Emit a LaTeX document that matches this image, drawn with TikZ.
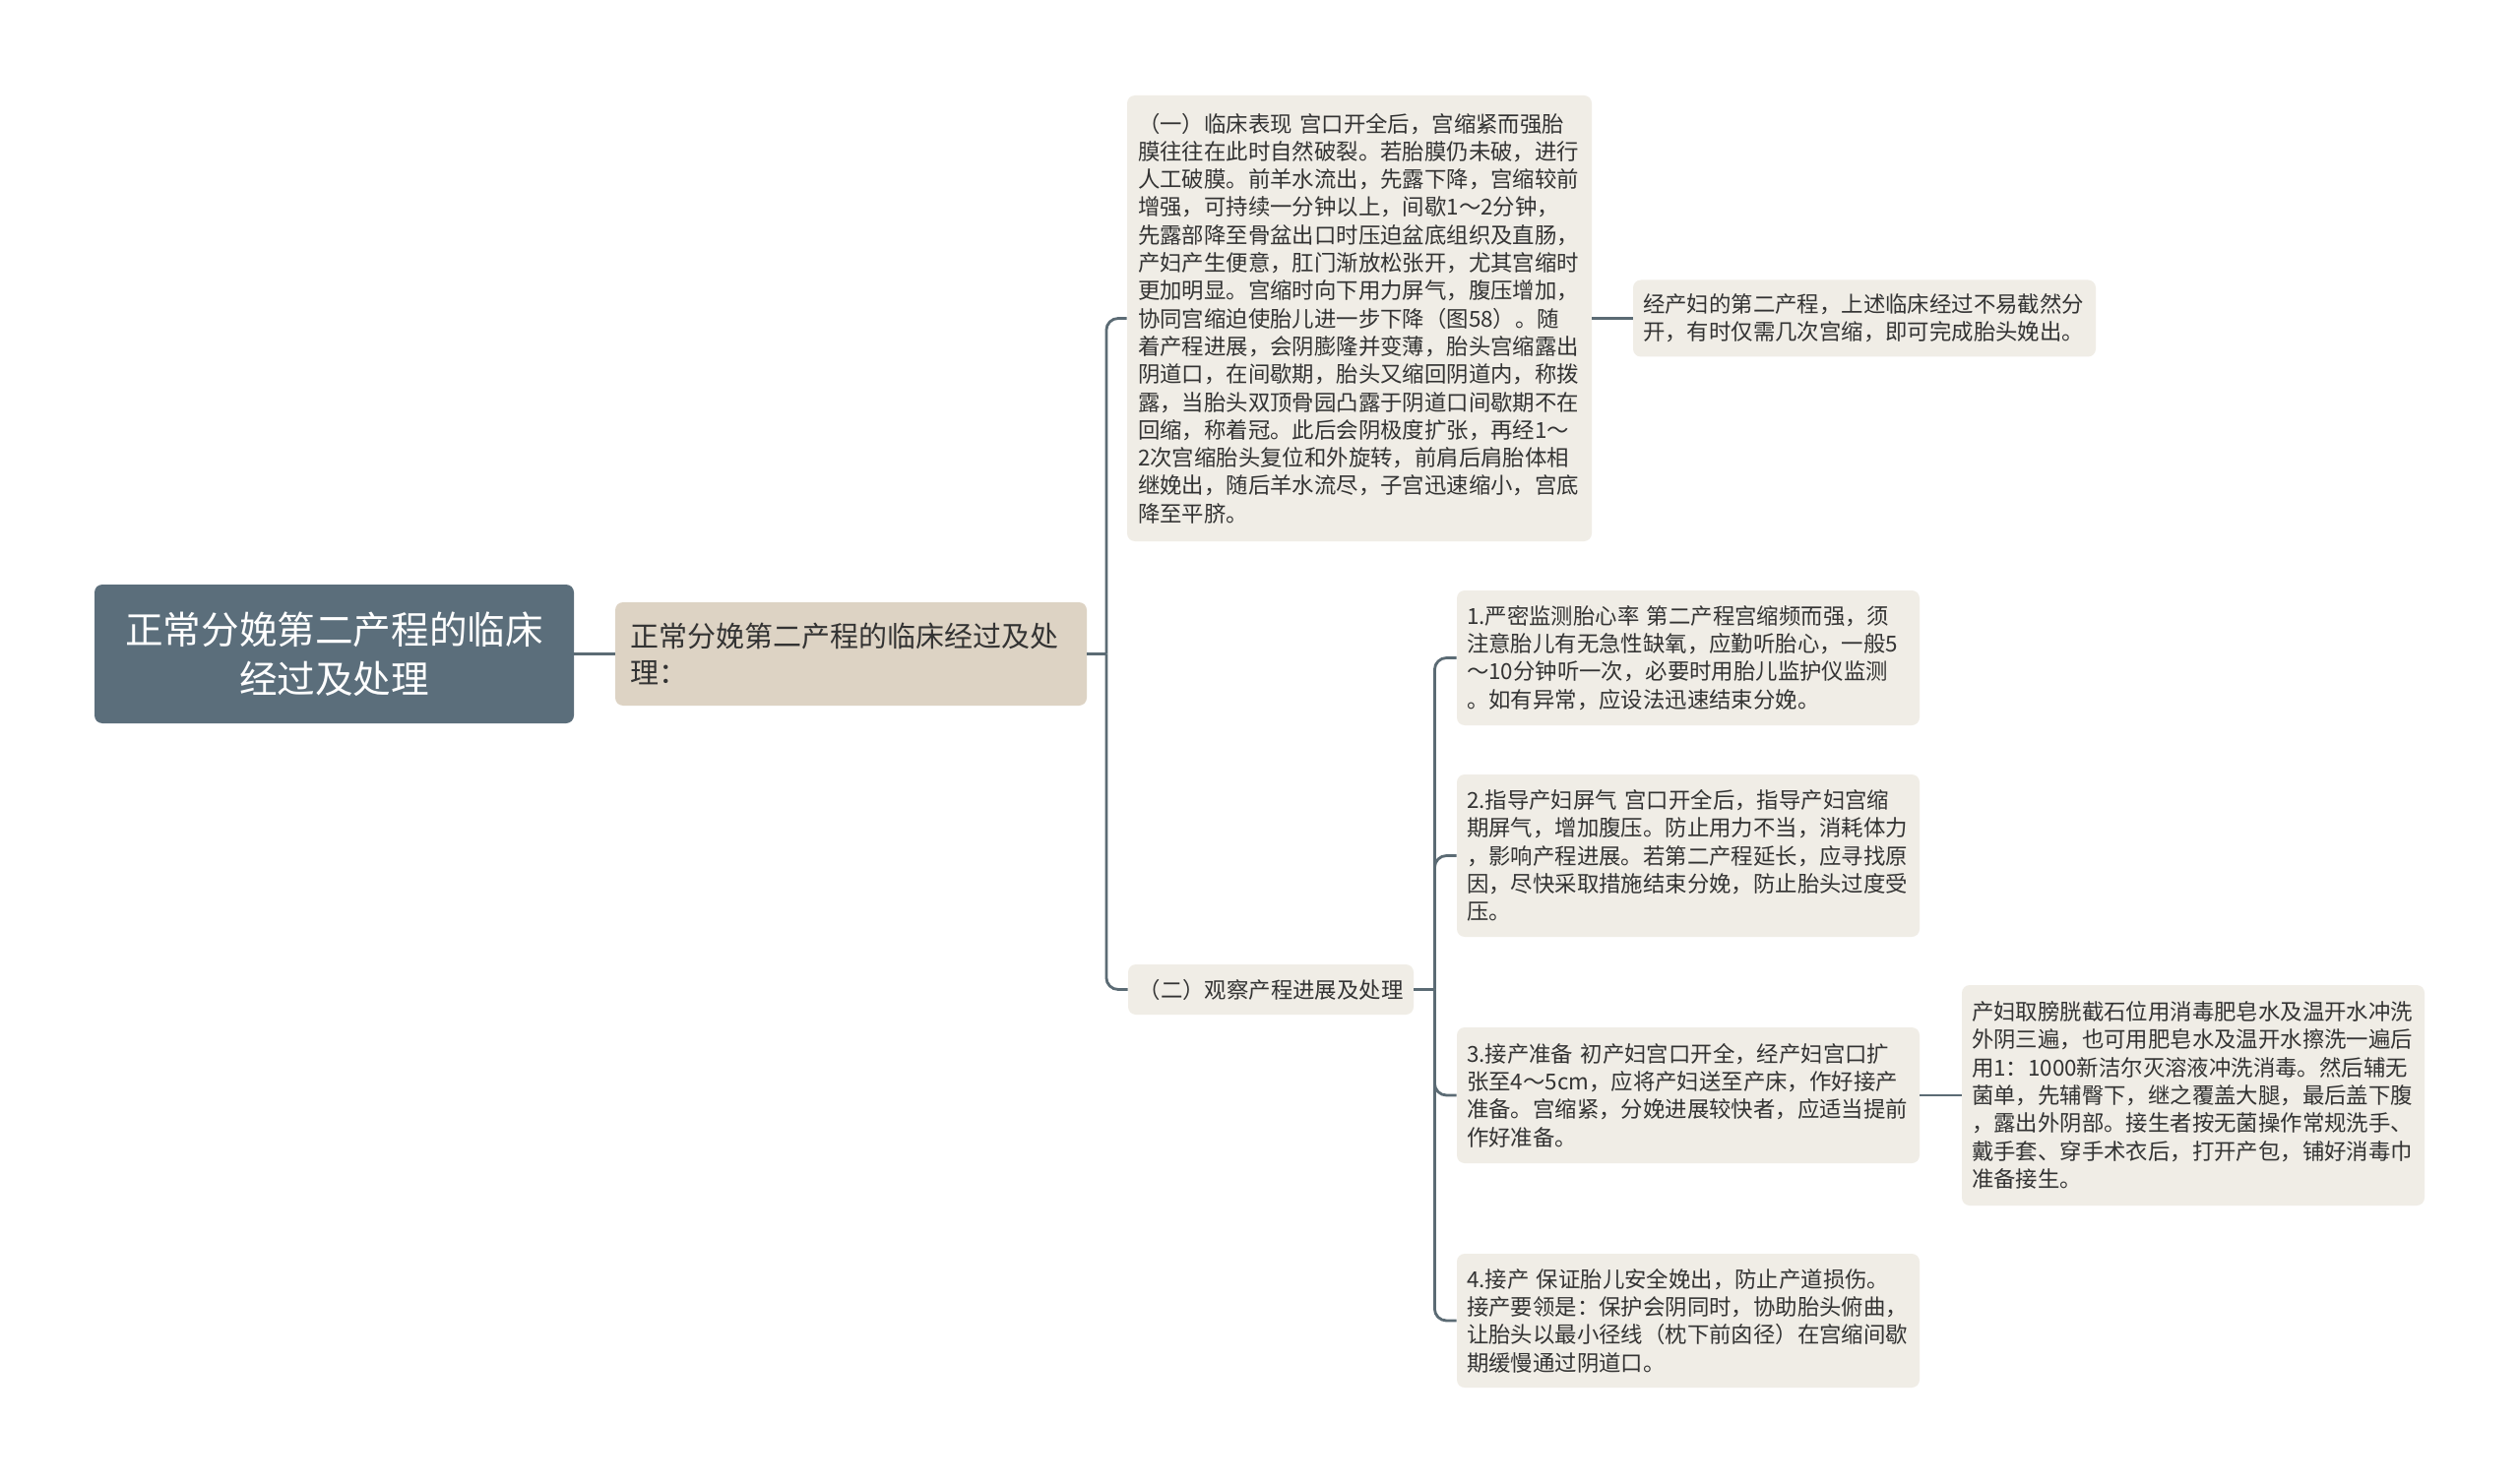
\documentclass[tikz,border=0pt]{standalone}
\usepackage{fontspec}
\setmainfont{Noto Sans CJK SC}
\definecolor{rootc}{HTML}{5B6E7B}
\definecolor{lonec}{HTML}{DDD3C4}
\definecolor{leafc}{HTML}{F0EDE6}
\definecolor{linec}{HTML}{5B6B74}
\definecolor{txtc}{HTML}{333333}
\tikzset{
  box/.style={rounded corners=4pt, inner sep=0pt, anchor=center},
  rootbox/.style={box, fill=rootc, text=white, align=center,
    font=\fontsize{19.3}{25}\selectfont},
  lonebox/.style={box, fill=lonec, text=txtc, align=left,
    font=\fontsize{14.5}{18.5}\selectfont},
  leafbox/.style={box, fill=leafc, text=txtc, align=left,
    font=\fontsize{11.2}{14.15}\selectfont},
  conn/.style={draw=linec, line width=1.4pt},
  rconn/.style={conn, rounded corners=6pt}
}
\begin{document}
\begin{tikzpicture}[x=0.5pt, y=-0.5pt]
\fill[white] (0,0) rectangle (2560,1508);
\useasboundingbox (0,0) rectangle (2560,1508);

\node[rootbox, minimum width=243.5pt, minimum height=70.5pt] (root) at (339.5,664.5)
  {正常分娩第二产程的临床\\经过及处理};

\node[lonebox, minimum width=239.5pt, minimum height=52.5pt, text width=224pt] (l1) at (864.5,664.5)
  {正常分娩第二产程的临床经过及处\\理：};

\node[leafbox, minimum width=236pt, minimum height=226.5pt, text width=225pt] (a) at (1381,323.5)
  {（一）临床表现 宫口开全后，宫缩紧而强胎\\
膜往往在此时自然破裂。若胎膜仍未破，进行\\
人工破膜。前羊水流出，先露下降，宫缩较前\\
增强，可持续一分钟以上，间歇1～2分钟，\\
先露部降至骨盆出口时压迫盆底组织及直肠，\\
产妇产生便意，肛门渐放松张开，尤其宫缩时\\
更加明显。宫缩时向下用力屏气，腹压增加，\\
协同宫缩迫使胎儿进一步下降（图58）。随\\
着产程进展，会阴膨隆并变薄，胎头宫缩露出\\
阴道口，在间歇期，胎头又缩回阴道内，称拨\\
露，当胎头双顶骨园凸露于阴道口间歇期不在\\
回缩，称着冠。此后会阴极度扩张，再经1～\\
2次宫缩胎头复位和外旋转，前肩后肩胎体相\\
继娩出，随后羊水流尽，子宫迅速缩小，宫底\\
降至平脐。};

\node[leafbox, minimum width=235pt, minimum height=39pt, text width=225pt] (a2) at (1894,323.5)
  {经产妇的第二产程，上述临床经过不易截然分\\开，有时仅需几次宫缩，即可完成胎头娩出。};

\node[leafbox, minimum width=145pt, minimum height=25.5pt, align=center] (b) at (1291,1005.5)
  {（二）观察产程进展及处理};

\node[leafbox, minimum width=235pt, minimum height=68.5pt, text width=225pt] (c1) at (1715,668.5)
  {1.严密监测胎心率 第二产程宫缩频而强，须\\
注意胎儿有无急性缺氧，应勤听胎心，一般5\\
～10分钟听一次，必要时用胎儿监护仪监测\\
。如有异常，应设法迅速结束分娩。};

\node[leafbox, minimum width=235pt, minimum height=82.5pt, text width=225pt] (c2) at (1715,869.5)
  {2.指导产妇屏气 宫口开全后，指导产妇宫缩\\
期屏气，增加腹压。防止用力不当，消耗体力\\
，影响产程进展。若第二产程延长，应寻找原\\
因，尽快采取措施结束分娩，防止胎头过度受\\
压。};

\node[leafbox, minimum width=235pt, minimum height=69pt, text width=225pt] (c3) at (1715,1113)
  {3.接产准备 初产妇宫口开全，经产妇宫口扩\\
张至4～5cm，应将产妇送至产床，作好接产\\
准备。宫缩紧，分娩进展较快者，应适当提前\\
作好准备。};

\node[leafbox, minimum width=235pt, minimum height=68pt, text width=225pt] (c4) at (1715,1342)
  {4.接产 保证胎儿安全娩出，防止产道损伤。\\
接产要领是：保护会阴同时，协助胎头俯曲，\\
让胎头以最小径线（枕下前囟径）在宫缩间歇\\
期缓慢通过阴道口。};

\node[leafbox, minimum width=235pt, minimum height=112pt, text width=225pt] (c3b) at (2228,1113)
  {产妇取膀胱截石位用消毒肥皂水及温开水冲洗\\
外阴三遍，也可用肥皂水及温开水擦洗一遍后\\
用1：1000新洁尔灭溶液冲洗消毒。然后辅无\\
菌单，先辅臀下，继之覆盖大腿，最后盖下腹\\
，露出外阴部。接生者按无菌操作常规洗手、\\
戴手套、穿手术衣后，打开产包，铺好消毒巾\\
准备接生。};

% connectors
\draw[conn] (root.east) -- (l1.west);
\draw[conn] (l1.east) -- ++(19.5,0) coordinate (j1);
\draw[rconn] (j1) |- (a.west);
\draw[rconn] (j1) |- (b.west);
\draw[conn] (a.east) -- (a2.west);
\draw[conn] (b.east) -- ++(21,0) coordinate (j2);
\draw[rconn] (j2) |- (c1.west);
\draw[rconn] (j2) |- (c2.west);
\draw[rconn] (j2) |- (c3.west);
\draw[rconn] (j2) |- (c4.west);
\draw[conn] (c3.east) -- (c3b.west);
\end{tikzpicture}
\end{document}
